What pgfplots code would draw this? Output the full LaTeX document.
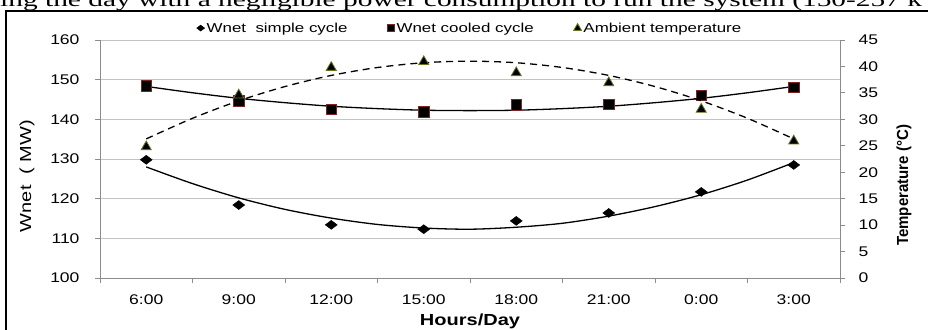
\documentclass[border=0pt]{standalone}
\usepackage{pgfplots}
\pgfplotsset{compat=1.18}
\usepackage{fontspec}
\setmainfont{Liberation Sans}[FakeStretch=1.25]
\newfontfamily\legendsans{Liberation Sans}[FakeStretch=1.3]
\newfontfamily\narrowsans{Liberation Sans}[FakeStretch=0.94]
\newfontfamily\serifdoc{Liberation Serif}[FakeStretch=1.47]
\definecolor{sqedge}{RGB}{125,35,35}
\definecolor{triedge}{RGB}{105,115,30}
\definecolor{gridc}{RGB}{195,195,195}
\definecolor{axc}{RGB}{140,140,140}
\begin{document}
\begin{tikzpicture}
\useasboundingbox (-100pt,-51pt) rectangle (828pt,278pt);
\clip (-100pt,-51pt) rectangle (828pt,278pt);
\node[anchor=base west, inner sep=0pt, font=\serifdoc\fontsize{20}{20}\selectfont] at (-100pt,271.5pt) {ing the day with a negligible power consumption to run the system (150-257 k};
\draw[line width=2pt] (-94pt,-60pt) -- (-94pt,266.5pt) -- (840pt,266.5pt);
\begin{axis}[
  scale only axis, width=740pt, height=238pt,
  at={(0pt,0pt)}, anchor=south west,
  xmin=-0.5, xmax=7.5, ymin=100, ymax=160,
  axis x line*=bottom, axis y line*=left,
  axis line style={axc, line width=0.8pt},
  tick align=outside, major tick length=5pt,
  tick style={axc, line width=0.8pt},
  xtick={-0.5,0.5,...,7.5}, xticklabels={},
  extra x ticks={0,1,2,3,4,5,6,7},
  extra x tick labels={6:00,9:00,12:00,15:00,18:00,21:00,0:00,3:00},
  extra x tick style={major tick length=0pt, grid=none,
    xticklabel style={yshift=-13pt}},
  ytick={100,110,...,160},
  ymajorgrids, major grid style={gridc, line width=0.9pt},
  /pgf/number format/assume math mode=true,
  ticklabel style={font=\fontsize{14}{14}\selectfont, text=black},
  yticklabel style={xshift=-12pt},
  every axis x label/.style={at={(axis description cs:0.5,-0.183)}, anchor=center},
  every axis y label/.style={at={(axis description cs:-0.0986,0.429)}, anchor=center, rotate=90},
  xlabel={\bfseries Hours/Day},
  ylabel={Wnet\ \ ( MW)},
  label style={font=\fontsize{16}{16}\selectfont},
  legend columns=3,
  legend style={at={(0.5,1.05)}, anchor=center, draw=none, fill=none,
    font=\legendsans\fontsize{13}{13}\selectfont,
    /tikz/every even column/.append style={column sep=38pt}},
  legend cell align=left,
  legend image code/.code={\draw[mark repeat=2,mark phase=2,#1] plot coordinates {(0pt,0pt) (6pt,0pt) (14pt,0pt)};},
]
\addplot[only marks, mark=diamond*, mark size=6pt,
  mark options={rotate=90, fill=black, draw=black},
  legend image post style={mark size=4pt}]
  coordinates {(0,129.8) (1,118.4) (2,113.4) (3,112.3) (4,114.4) (5,116.4) (6,121.7) (7,128.5)};
\addlegendentry{Wnet\ \ simple cycle}
\addplot[only marks, mark=square*, mark size=5.2pt,
  mark options={fill=black, draw=sqedge, line width=0.8pt},
  legend image post style={mark size=3.5pt}]
  coordinates {(0,148.4) (1,144.6) (2,142.5) (3,141.9) (4,143.6) (5,143.8) (6,146.1) (7,148.0)};
\addlegendentry{Wnet cooled cycle}
\addlegendimage{only marks, mark=triangle*, mark size=4.5pt,
  mark options={fill=black, draw=triedge, line width=0.8pt}}
\addlegendentry{Ambient temperature}
\addplot[black, line width=1.3pt, smooth, forget plot]
  coordinates {(0,128.0) (0.5,123.8) (1,120.2) (1.5,117.3) (2,115.1) (2.5,113.5) (3,112.6) (3.5,112.3) (4,112.8) (4.5,113.8) (5,115.6) (5.5,118.0) (6,121.0) (6.5,124.7) (7,129.1)};
\addplot[black, line width=1.3pt, smooth, forget plot]
  coordinates {(0,148.3) (0.5,146.7) (1,145.3) (1.5,144.2) (2,143.3) (2.5,142.7) (3,142.3) (3.5,142.2) (4,142.3) (4.5,142.7) (5,143.3) (5.5,144.2) (6,145.3) (6.5,146.7) (7,148.3)};
\end{axis}
\begin{axis}[
  scale only axis, width=740pt, height=238pt,
  at={(0pt,0pt)}, anchor=south west,
  xmin=-0.5, xmax=7.5, ymin=0, ymax=45,
  axis x line=none, axis y line*=right,
  axis line style={axc, line width=0.8pt},
  tick align=outside, major tick length=5pt,
  tick style={axc, line width=0.8pt},
  ytick={0,5,...,45},
  /pgf/number format/assume math mode=true,
  ticklabel style={font=\fontsize{14}{14}\selectfont, text=black},
  yticklabel style={anchor=west, xshift=10pt},
  every axis y label/.style={at={(axis description cs:1.0865,0.389)}, anchor=center, rotate=90},
  ylabel={\narrowsans\bfseries Temperature (°C)},
  label style={font=\fontsize{16}{16}\selectfont},
]
\addplot[only marks, mark=triangle*, mark size=5.8pt,
  mark options={fill=black, draw=triedge, line width=0.8pt}]
  coordinates {(0,24.8) (1,34.6) (2,39.8) (3,40.9) (4,38.8) (5,36.9) (6,31.9) (7,25.9)};
\addplot[black, line width=1.3pt, dash pattern=on 7pt off 5pt, smooth]
  coordinates {(0,26.3) (0.5,30.2) (1,33.5) (1.5,36.2) (2,38.3) (2.5,39.8) (3,40.7) (3.5,41.0) (4,40.7) (4.5,39.8) (5,38.3) (5.5,36.2) (6,33.5) (6.5,30.2) (7,26.3)};
\end{axis}
\end{tikzpicture}
\end{document}
